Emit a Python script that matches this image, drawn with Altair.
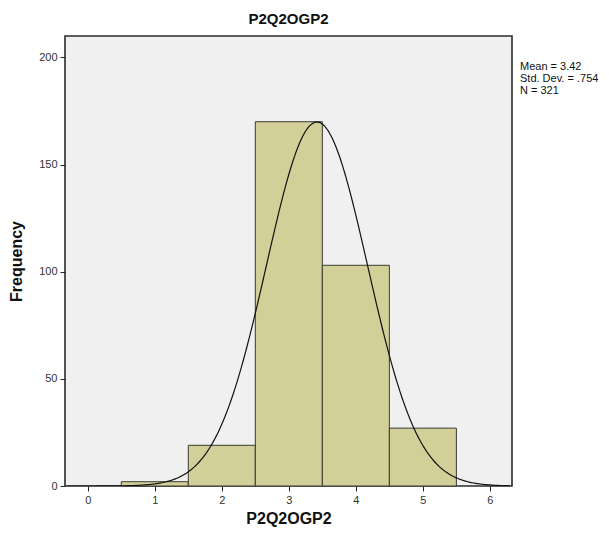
import altair as alt
import numpy as np
import pandas as pd

values = [1, 2, 3, 4, 5]
freqs = [2, 19, 170, 103, 27]
MEAN = 3.42
SD = 0.754
N = 321
stats_lines = ["Mean = 3.42", "Std. Dev. = .754", "N = 321"]

bars = pd.DataFrame({
    "start": [v - 0.5 for v in values],
    "end": [v + 0.5 for v in values],
    "freq": freqs,
})

xs = np.linspace(-0.3, 6.3, 400)
curve = pd.DataFrame({
    "x": xs,
    "y": N * 1.0 / (SD * np.sqrt(2 * np.pi)) * np.exp(-0.5 * ((xs - MEAN) / SD) ** 2),
})

xscale = alt.Scale(domain=[-0.34, 6.33], nice=False, zero=False)
yscale = alt.Scale(domain=[0, 210], nice=False)

FONT = "Liberation Sans"

bar_layer = alt.Chart(bars).mark_rect(
    fill="#d3cf98", stroke="#3a3a30", strokeWidth=1
).encode(
    x=alt.X("start:Q", scale=xscale,
            axis=alt.Axis(values=[0, 1, 2, 3, 4, 5, 6], title="P2Q2OGP2", format="d")),
    x2="end:Q",
    y=alt.Y("freq:Q", scale=yscale,
            axis=alt.Axis(values=[0, 50, 100, 150, 200], title="Frequency")),
    y2=alt.datum(0),
)

line_layer = alt.Chart(curve).mark_line(color="#111111", strokeWidth=1.2, clip=True).encode(
    x=alt.X("x:Q", scale=xscale),
    y=alt.Y("y:Q", scale=yscale),
)

stats = pd.DataFrame({"t": ["\n".join(stats_lines)]})
text_layer = alt.Chart(stats).mark_text(
    align="left", baseline="top", font=FONT, fontSize=11, lineHeight=12,
    color="#111111", lineBreak="\n", clip=False
).encode(
    x=alt.value(455), y=alt.value(25), text="t:N"
)

chart = alt.layer(bar_layer, line_layer, text_layer).properties(
    width=447, height=450,
    title=alt.TitleParams("P2Q2OGP2", font=FONT, fontSize=15, fontWeight="bold",
                          anchor="middle", offset=9, color="#111111"),
    autosize=alt.AutoSizeParams(type="none"),
    padding={"left": 65, "top": 36, "right": 97, "bottom": 50},
    background="white",
).configure_view(
    fill="#f0f0f0", stroke="#2a2a2a", strokeWidth=1.6
).configure_axis(
    labelFont=FONT, labelFontSize=11, labelColor="#333333",
    titleFont=FONT, titleFontSize=16, titleFontWeight="bold", titleColor="#111111",
    domainColor="#222222", tickColor="#222222", tickSize=5, grid=False,
    labelPadding=3,
).configure_axisX(
    titlePadding=5, domain=False,
).configure_axisY(
    titlePadding=14, domain=False,
)

chart.save("out.html", embed_options={"renderer": "svg", "actions": False})
